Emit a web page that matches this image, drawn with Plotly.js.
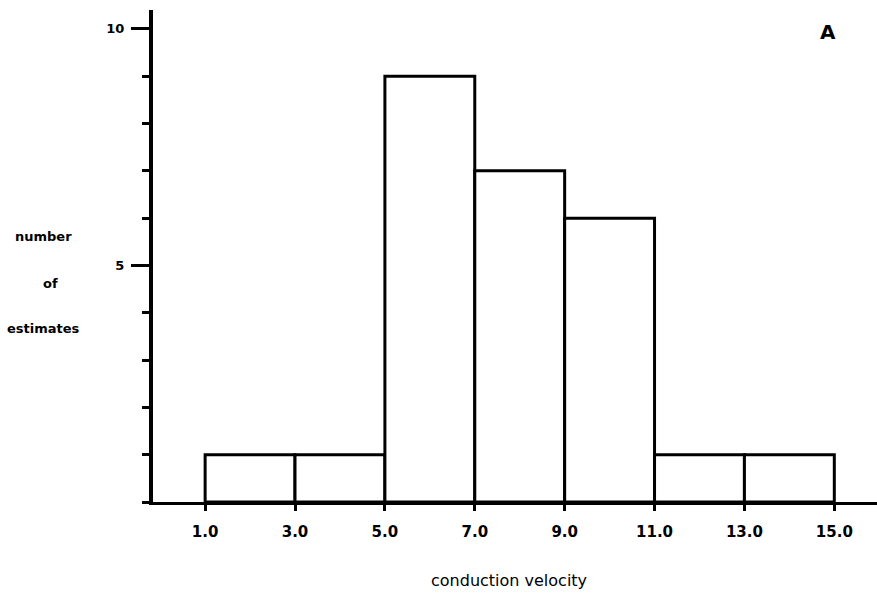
<!DOCTYPE html>
<html>
<head>
<meta charset="utf-8">
<script src="https://cdn.plot.ly/plotly-3.0.1.min.js"></script>
<style>html,body{margin:0;padding:0;background:#fff;}#chart{width:877px;height:609px;}</style>
</head>
<body>
<div id="chart"></div>
<script>
// Histogram bins (conduction velocity) and counts
const binStarts = [1.0, 3.0, 5.0, 7.0, 9.0, 11.0, 13.0];
const binWidth = 2.0;
const counts = [1, 1, 9, 7, 6, 1, 1];
const xTickVals = [1, 3, 5, 7, 9, 11, 13, 15];
const xTickText = ["1.0", "3.0", "5.0", "7.0", "9.0", "11.0", "13.0", "15.0"];
const yTickVals = [5, 10];
const yTickText = ["5", "10"];

const centers = binStarts.map(s => s + binWidth / 2);
const font = "DejaVu Sans, sans-serif";

const trace = {
  type: "bar",
  x: centers,
  y: counts,
  width: binStarts.map(() => binWidth),
  marker: { color: "#ffffff", line: { color: "#000000", width: 3 } },
  hoverinfo: "skip"
};

const layout = {
  width: 877, height: 609,
  margin: { l: 153, r: 0, t: 10, b: 107 },
  paper_bgcolor: "#ffffff",
  plot_bgcolor: "#ffffff",
  showlegend: false,
  bargap: 0,
  xaxis: {
    range: [-0.16, 15.95],
    tickmode: "array",
    tickvals: xTickVals,
    ticktext: xTickText,
    ticks: "outside", ticklen: 6, tickwidth: 3, tickcolor: "#000",
    ticklabelstandoff: 8,
    showline: true, linecolor: "#000", linewidth: 3,
    showgrid: false, zeroline: false,
    tickfont: { family: font, size: 15, color: "#000", weight: "bold" },
    title: { text: "" }
  },
  yaxis: {
    range: [0, 10.4],
    tickmode: "array",
    tickvals: yTickVals,
    ticktext: yTickText,
    ticks: "outside", ticklen: 18, tickwidth: 3, tickcolor: "#000",
    ticklabelstandoff: 4,
    minor: { tickmode: "linear", tick0: 0, dtick: 1, ticks: "outside", ticklen: 7, tickwidth: 3, tickcolor: "#000", showgrid: false },
    showline: true, linecolor: "#000", linewidth: 4,
    showgrid: false, zeroline: false,
    tickfont: { family: font, size: 13, color: "#000", weight: "bold" },
    title: { text: "" }
  }
};

// Axis title annotations placed in pixel-like paper coords
const plotW = 877 - 153, plotH = 609 - 10 - 107;
function px(xp) { return (xp - 153) / plotW; }
function py(yp) { return (609 - 107 - yp) / plotH; }
layout.annotations = [
  { text: "number", x: px(43), y: py(236) },
  { text: "of", x: px(50), y: py(283) },
  { text: "estimates", x: px(43), y: py(328) },
  { text: "conduction velocity", x: px(509), y: py(580), font: { family: font, size: 16, color: "#000" } },
  { text: "A", x: px(828), y: py(32), font: { family: font, size: 20, color: "#000", weight: "bold" } }
].map(a => Object.assign({
  xref: "paper", yref: "paper", showarrow: false, xanchor: "center", yanchor: "middle",
  font: { family: font, size: 13, color: "#000", weight: "bold" }
}, a));

Plotly.newPlot("chart", [trace], layout, { displayModeBar: false, staticPlot: true });
</script>
</body>
</html>
